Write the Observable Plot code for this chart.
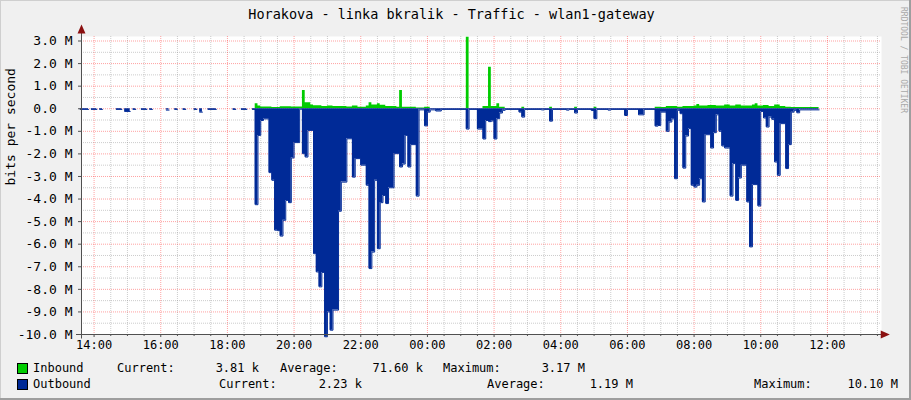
<!DOCTYPE html>
<html><head><meta charset="utf-8">
<script src="https://cdn.jsdelivr.net/npm/d3@7"></script>
<script src="https://cdn.jsdelivr.net/npm/@observablehq/plot@0.6"></script>
<style>
html,body{margin:0;padding:0;background:#f0f0f0}
#page{position:relative;width:911px;height:400px;background:#f0f0f0;overflow:hidden;font-family:"DejaVu Sans Mono",monospace;color:#000}
#title{position:absolute;top:5px;left:0;width:903px;text-align:center;font-size:13.5px;line-height:18px;white-space:pre}
#chart{position:absolute;top:26px;left:0}
#chart svg{overflow:visible}
.lg{position:absolute;font-size:12px;line-height:14px;white-space:pre}
.sw{position:absolute;width:9px;height:9px;border:1px solid #000}
#credit{position:absolute;left:908px;top:7px;font-size:8px;line-height:9px;color:#a8a8a8;white-space:pre;transform-origin:0 0;transform:rotate(90deg)}
#edgeR{position:absolute;right:0;top:0;width:2px;height:400px;background:#9e9e9e}
#edgeB{position:absolute;left:0;bottom:0;width:911px;height:2px;background:#9e9e9e}
#edgeT{position:absolute;left:0;top:0;width:911px;height:1px;background:#cfcfcf}
#edgeL{position:absolute;left:0;top:0;width:1px;height:400px;background:#cfcfcf}
</style></head><body>
<div id="page">
  <div id="title"></div>
  <div id="chart"></div>
  <div id="legend"></div>
  <div id="credit">RRDTOOL / TOBI OETIKER</div>
  <div id="edgeT"></div><div id="edgeL"></div><div id="edgeR"></div><div id="edgeB"></div>
</div>
<script>
// ---------------- data (Mbit/s) ----------------
const titleText = "Horakova - linka bkralik - Traffic - wlan1-gateway";
const yAxisLabel = "bits per second";

const outTimes = ["13:35","13:50","13:55","14:05","14:10","14:15","14:40","14:50","14:55","15:05","15:10","15:15","15:25","15:35","15:40","15:45","16:10","16:15","16:25","16:30","16:40","16:45","17:00","17:05","17:10","17:15","17:25","17:40","18:10","18:15","18:25","18:35","18:45",
"18:50","18:55","19:00","19:05","19:15","19:20","19:25","19:30","19:35","19:40","19:45","19:50","19:55","20:00","20:10","20:15","20:20","20:25","20:35","20:40","20:45","20:50","20:55","21:00","21:05","21:10","21:20","21:25","21:35","21:45","21:50","22:00","22:10","22:15","22:20","22:25","22:30","22:35","22:40","22:45","22:50","23:00","23:10","23:15","23:20","23:25","23:30","23:40","23:45","23:55",
"00:00","00:05","00:15","00:25","01:10","01:15","01:30","01:40","01:45","01:50","01:55","02:00","02:05","02:10","02:15","02:20","02:45","02:50","02:55","03:25","03:30","03:40","03:45","04:10","04:15","04:25","04:30","04:55","05:00","05:05","05:25","05:30","05:55","06:00","06:20","06:30","06:50","06:55","07:00","07:10","07:15","07:20","07:25","07:30","07:35","07:40","07:45","07:50","07:55","08:00","08:05","08:10","08:15","08:20","08:30","08:35","08:40","08:45","08:50","08:55","09:05","09:10","09:15","09:20","09:25","09:35","09:40","09:45","09:55","10:00","10:05","10:10","10:15","10:20","10:25","10:30","10:35","10:45","10:50","10:55","11:00","11:05","11:10","11:45"];
const outValues = [0.03,null,0.03,null,0.03,null,0.03,null,0.12,null,0.03,null,0.03,null,0.03,null,0.06,null,0.03,null,0.03,null,0.03,null,0.15,null,0.03,null,0.03,null,0.03,null,0.03,
4.25,1.18,0.52,0.45,2.83,3.17,5.38,5.40,5.64,4.94,4.06,4.16,2.18,1.50,0.02,1.99,2.14,0.96,6.42,7.23,7.89,7.25,10.10,9.00,9.81,8.92,4.54,3.25,1.33,3.03,2.21,2.50,3.39,7.08,6.35,3.17,6.20,4.16,3.84,4.20,3.50,1.99,2.58,2.45,1.18,2.58,1.59,3.87,0.05,0.76,
0.15,0.05,0.10,0.03,0.90,0.03,0.90,1.34,0.52,0.57,0.54,1.34,0.44,0.19,0.07,0.03,0.15,0.37,0.03,0.05,0.03,0.55,0.03,0.06,0.03,0.19,0.03,0.08,0.44,0.03,0.06,0.03,0.30,0.03,0.27,0.03,0.77,0.74,0.15,1.00,0.59,0.45,3.10,0.07,0.22,2.63,1.21,0.88,3.39,3.47,3.39,3.10,4.13,1.15,1.74,1.06,0.27,1.00,1.65,1.74,3.87,2.43,4.06,3.07,2.50,4.13,6.12,3.36,4.31,0.12,0.41,0.81,0.37,0.47,2.36,2.95,0.66,2.65,1.59,0.15,0.07,0.18,0.05,null];

const inTimes = ["18:50","18:55","19:00","19:20","19:35","19:55","20:15","20:20","20:30","20:35","20:50","21:00","21:10","21:25","21:35","21:45","21:55","22:10","22:15","22:20","22:30","22:35","22:45","23:05","23:10","23:15","23:40","23:55","00:05","01:10","01:15","01:40","01:50","01:55","02:05","02:10","02:20","02:50","02:55","03:40","03:45","04:25","04:30","05:00","05:05","06:50","07:00","07:10","07:30","07:40","08:00","08:05","08:10","08:25","08:40","08:55","09:05","09:15","09:25","09:45","09:50","09:55","10:05","10:15","10:25","10:35","10:45","10:55","11:45"];
const inValues = [0.22,0.12,0.08,0.06,0.09,0.08,0.81,0.26,0.17,0.13,0.10,0.12,0.10,0.10,0.08,0.12,0.07,0.12,0.26,0.17,0.22,0.15,0.10,0.07,0.81,0.07,0.03,0.07,null,3.17,null,0.10,1.84,0.10,0.22,0.07,null,0.07,null,0.07,null,0.07,null,0.07,null,0.07,0.05,0.10,0.07,0.10,0.12,0.19,0.12,0.14,0.12,0.17,0.12,0.17,0.12,0.17,0.22,0.12,0.14,0.10,0.17,0.10,0.07,0.05,null];

const seriesNames = ["Inbound","Outbound"];
const seriesColors = ["#00CC00","#002A97"];
const currentText = ["3.81 k","2.23 k"];
const averageText = ["71.60 k","1.19 M"];
const maximumText = ["3.17 M","10.10 M"];

const yMajorTicks = d3.range(-10, 3.01, 1);
const yMinorTicks = d3.range(-9.5, 3.2, 1);

// ---------------- helpers ----------------
const base = Date.UTC(2024, 0, 1);
function toDate(s) {
  const [h, m] = s.split(":").map(Number);
  const day = h >= 13 ? 0 : 1;
  return new Date(base + day * 86400000 + (h * 60 + m) * 60000);
}
function steps(times, values, sign) {
  const pts = [];
  for (let i = 0; i < times.length - 1; i++) {
    const v = values[i];
    if (v == null) { pts.push({t: toDate(times[i]), y: NaN}); continue; }
    pts.push({t: toDate(times[i]), y: sign * v});
    pts.push({t: toDate(times[i + 1]), y: sign * v});
  }
  return pts;
}
const outPts = steps(outTimes, outValues, -1);
const inPts = steps(inTimes, inValues, 1);

const xStart = new Date(+toDate("13:37") + 20000);
const xEnd = new Date(+xStart + 86400000);
const xMajor = d3.utcHour.every(2).range(xStart, xEnd);
const xMinor = d3.utcMinute.every(30).range(xStart, xEnd).filter(d => d.getUTCMinutes() !== 0 || d.getUTCHours() % 2 !== 0);
const yTop = 3.2, yBot = -10;

const rightArrow = {draw(ctx, size) { const s = Math.sqrt(size); ctx.moveTo(s, 0); ctx.lineTo(-s * 0.6, -s * 0.7); ctx.lineTo(-s * 0.6, s * 0.7); ctx.closePath(); }};
const upArrow = {draw(ctx, size) { const s = Math.sqrt(size); ctx.moveTo(0, -s); ctx.lineTo(-s * 0.7, s * 0.6); ctx.lineTo(s * 0.7, s * 0.6); ctx.closePath(); }};

const gridGray = {stroke: "#808080", strokeOpacity: 0.4, strokeDasharray: "1,1"};
const gridRed = {stroke: "#ff0000", strokeOpacity: 0.37, strokeDasharray: "1,1"};
const axisColor = "#505050";
const arrowColor = "#8b1010";

const chart = Plot.plot({
  width: 911,
  height: 330,
  marginLeft: 81,
  marginRight: 30,
  marginTop: 10,
  marginBottom: 22,
  style: {fontFamily: "DejaVu Sans Mono", fontSize: "12px", background: "transparent", color: "#000"},
  x: {type: "utc", domain: [xStart, xEnd]},
  y: {domain: [yBot, yTop]},
  marks: [
    Plot.frame({fill: "white", stroke: "none"}),
    Plot.ruleX(xMinor, gridGray),
    Plot.ruleY(yMinorTicks, gridGray),
    Plot.ruleX(xMajor, gridRed),
    Plot.ruleY(yMajorTicks, gridRed),
    Plot.areaY(inPts, {x: "t", y1: 0, y2: "y", fill: seriesColors[0]}),
    Plot.areaY(outPts, {x: "t", y1: 0, y2: "y", fill: seriesColors[1]}),
    Plot.line(outPts, {x: "t", y: "y", stroke: seriesColors[1], strokeWidth: 1}),
    Plot.axisY(yMajorTicks, {tickSize: 3, tickPadding: 6, fontSize: 13, stroke: axisColor,
      tickFormat: v => v === 0 ? "0.0\u00a0\u00a0" : `${v.toFixed(1)} M`, label: null}),
    Plot.axisX(xMinor, {tickSize: 2, tickFormat: () => "", stroke: axisColor, label: null}),
    Plot.axisX(xMajor, {tickSize: 3, tickPadding: 3, fontSize: 12, stroke: axisColor,
      tickFormat: d3.utcFormat("%H:%M"), label: null}),
    Plot.ruleX([xStart], {y1: yBot - 0.2, y2: yTop + 0.25, stroke: axisColor}),
    Plot.ruleY([yBot], {x1: new Date(+xStart - 180000 * 3), x2: new Date(+xEnd + 180000 * 1.5), stroke: axisColor}),
    Plot.dot([yTop], {x: xStart, y: d => d + 0.28, symbol: upArrow, r: 3.2, fill: arrowColor, stroke: "none"}),
    Plot.dot([xEnd], {x: d => new Date(+d + 180000 * 1.6), y: yBot, symbol: rightArrow, r: 3.2, fill: arrowColor, stroke: "none"}),
    Plot.text([yAxisLabel], {frameAnchor: "left", rotate: -90, dx: -71, fontSize: 13, fill: "#000"})
  ]
});
document.getElementById("chart").appendChild(chart);
document.getElementById("title").textContent = titleText;

// ---------------- legend ----------------
const legendLayout = [
  {top: 361, name: 33, cur: 117, curEnd: 259, avg: 280, avgEnd: 423, max: 443, maxEnd: 585},
  {top: 377, name: 33, cur: 219, curEnd: 362, avg: 487, avgEnd: 633, max: 754, maxEnd: 898}
];
const lg = document.getElementById("legend");
function span(text, left, top, right) {
  const s = document.createElement("div");
  s.className = "lg";
  s.textContent = text;
  s.style.top = top + "px";
  if (right != null) { s.style.right = (911 - right) + "px"; } else { s.style.left = left + "px"; }
  lg.appendChild(s);
}
seriesNames.forEach((name, i) => {
  const L = legendLayout[i];
  const sw = document.createElement("div");
  sw.className = "sw";
  sw.style.left = "17px"; sw.style.top = (L.top + 2) + "px"; sw.style.background = seriesColors[i];
  lg.appendChild(sw);
  span(name, L.name, L.top);
  span("Current:", L.cur, L.top);
  span(currentText[i], null, L.top, L.curEnd);
  span("Average:", L.avg, L.top);
  span(averageText[i], null, L.top, L.avgEnd);
  span("Maximum:", L.max, L.top);
  span(maximumText[i], null, L.top, L.maxEnd);
});
</script>
</body></html>
